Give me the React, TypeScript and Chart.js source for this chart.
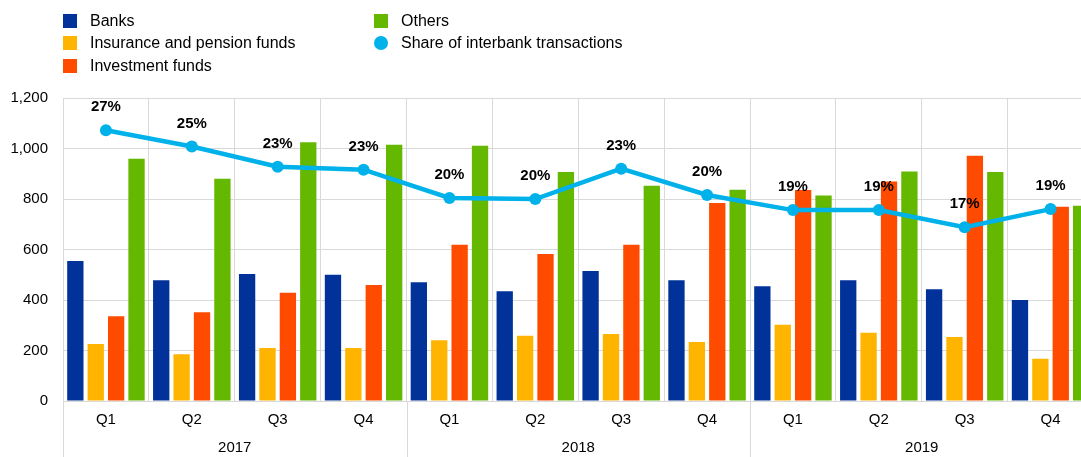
import React, { useEffect, useRef } from "react";
import { Chart, registerables } from "chart.js";

Chart.register(...registerables);

const quarters = ["Q1", "Q2", "Q3", "Q4", "Q1", "Q2", "Q3", "Q4", "Q1", "Q2", "Q3", "Q4"];
const years = ["2017", "2018", "2019"];
const banks = [554, 478, 503, 500, 470, 435, 515, 478, 454, 478, 443, 400];
const insurance = [226, 185, 210, 210, 241, 258, 265, 234, 302, 270, 253, 167];
const investment = [336, 351, 429, 459, 619, 582, 619, 784, 836, 869, 971, 769];
const others = [959, 880, 1025, 1015, 1011, 907, 852, 837, 814, 909, 907, 773];
const sharePct = [26.8, 25.2, 23.2, 22.9, 20.1, 20.0, 23.0, 20.4, 18.9, 18.9, 17.2, 19.0];
const yTicksMax = 1200;
const yTicksStep = 200;

const C_BANKS = "#003299";
const C_INS = "#ffb400";
const C_INV = "#ff4b00";
const C_OTH = "#65b800";
const C_LINE = "#00b1ea";
const GRID = "#d9d9d9";
const FONT = "Arial, 'Liberation Sans', sans-serif";

const legendItems = [
  { label: "Banks", color: C_BANKS, shape: "square", col: 0, row: 0 },
  { label: "Insurance and pension funds", color: C_INS, shape: "square", col: 0, row: 1 },
  { label: "Investment funds", color: C_INV, shape: "square", col: 0, row: 2 },
  { label: "Others", color: C_OTH, shape: "square", col: 1, row: 0 },
  { label: "Share of interbank transactions", color: C_LINE, shape: "circle", col: 1, row: 1 },
];

const pctLabelPlugin = {
  id: "pctLabels",
  afterDatasetsDraw(chart: any) {
    const ctx = chart.ctx;
    const idx = chart.data.datasets.findIndex((d: any) => d.type === "line");
    if (idx < 0) return;
    const meta = chart.getDatasetMeta(idx);
    ctx.save();
    ctx.font = `bold 15px ${FONT}`;
    ctx.fillStyle = "#000";
    ctx.textAlign = "center";
    ctx.textBaseline = "middle";
    meta.data.forEach((pt: any, i: number) => {
      const v = chart.data.datasets[idx].data[i];
      ctx.fillText(`${Math.round(v)}%`, pt.x, pt.y - 23);
    });
    ctx.restore();
  },
};

const yearAxisPlugin = {
  id: "yearAxis",
  afterDraw(chart: any) {
    const ctx = chart.ctx;
    const xs = chart.scales.x;
    const half = (xs.getPixelForValue(1) - xs.getPixelForValue(0)) / 2;
    const bottom = chart.chartArea.bottom;
    ctx.save();
    ctx.strokeStyle = GRID;
    ctx.lineWidth = 1;
    ctx.font = `15px ${FONT}`;
    ctx.fillStyle = "#000";
    ctx.textAlign = "center";
    ctx.textBaseline = "middle";
    years.forEach((yr, g) => {
      const start = g * 4;
      const x0 = xs.getPixelForValue(start) - half;
      const x1 = xs.getPixelForValue(start + 3) + half;
      ctx.beginPath();
      ctx.moveTo(Math.round(x0) + 0.5, bottom);
      ctx.lineTo(Math.round(x0) + 0.5, chart.height);
      ctx.stroke();
      if (g === years.length - 1) {
        ctx.beginPath();
        ctx.moveTo(Math.round(x1) + 0.5, bottom);
        ctx.lineTo(Math.round(x1) + 0.5, chart.height);
        ctx.stroke();
      }
      ctx.fillText(yr, (x0 + x1) / 2, 448);
    });
    ctx.restore();
  },
};

export default function App() {
  const ref = useRef<HTMLCanvasElement | null>(null);

  useEffect(() => {
    if (!ref.current) return;
    const barCommon = {
      type: "bar" as const,
      order: 1,
      categoryPercentage: 0.95,
      barPercentage: 0.8,
      borderWidth: 0,
      yAxisID: "y",
    };
    const chart = new Chart(ref.current, {
      type: "bar",
      data: {
        labels: quarters,
        datasets: [
          { ...barCommon, label: "Banks", data: banks, backgroundColor: C_BANKS },
          { ...barCommon, label: "Insurance and pension funds", data: insurance, backgroundColor: C_INS },
          { ...barCommon, label: "Investment funds", data: investment, backgroundColor: C_INV },
          { ...barCommon, label: "Others", data: others, backgroundColor: C_OTH },
          {
            type: "line" as const,
            label: "Share of interbank transactions",
            data: sharePct,
            yAxisID: "y1",
            order: 0,
            borderColor: C_LINE,
            backgroundColor: C_LINE,
            borderWidth: 4.5,
            pointRadius: 6,
            pointHoverRadius: 6,
            pointBackgroundColor: C_LINE,
            pointBorderWidth: 0,
            tension: 0,
          } as any,
        ],
      },
      options: {
        responsive: false,
        animation: false,
        devicePixelRatio: 1,
        layout: { padding: { top: 98, right: 6.5, left: 0, bottom: 0 } },
        plugins: {
          legend: { display: false },
          tooltip: { enabled: false },
        },
        scales: {
          x: {
            grid: { color: GRID, drawTicks: false, offset: true },
            border: { color: GRID },
            ticks: { color: "#000", font: { size: 15, family: FONT }, padding: 10, maxRotation: 0, autoSkip: false },
            afterFit(scale: any) {
              scale.height = 56;
            },
          },
          y: {
            min: 0,
            max: yTicksMax,
            grid: { color: GRID, drawTicks: false },
            border: { color: GRID },
            ticks: { stepSize: yTicksStep, color: "#000", font: { size: 15, family: FONT }, padding: 15 },
            afterFit(scale: any) {
              scale.width = 63;
            },
          },
          y1: {
            display: false,
            min: 0,
            max: 30,
          },
        },
      },
      plugins: [pctLabelPlugin, yearAxisPlugin],
    } as any);
    return () => chart.destroy();
  }, []);

  return (
    <div
      style={{
        position: "fixed",
        left: 0,
        top: 0,
        width: 1081,
        height: 457,
        overflow: "hidden",
        background: "#fff",
        fontFamily: FONT,
      }}
    >
      <canvas ref={ref} width={1100} height={457} style={{ position: "absolute", left: 0, top: 0 }} />
      {legendItems.map((it) => {
        const left = it.col === 0 ? 63 : 374;
        const cy = 21 + it.row * 22.3;
        return (
          <div key={it.label} style={{ position: "absolute", left, top: cy - 10, height: 20, display: "flex", alignItems: "center" }}>
            <span
              style={{
                display: "inline-block",
                width: 14,
                height: 14,
                background: it.color,
                borderRadius: it.shape === "circle" ? "50%" : 0,
              }}
            />
            <span style={{ marginLeft: 13, fontSize: 16, color: "#000", whiteSpace: "nowrap", lineHeight: "20px" }}>{it.label}</span>
          </div>
        );
      })}
    </div>
  );
}
